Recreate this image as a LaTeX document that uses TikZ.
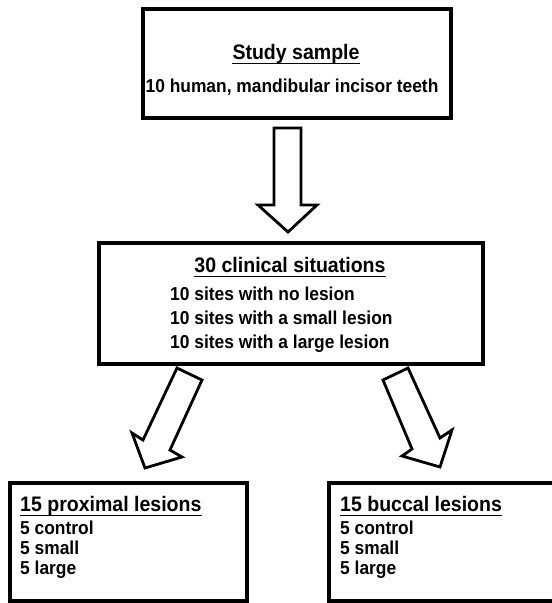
\documentclass[tikz,border=0pt]{standalone}
\usepackage{fontspec}
\setmainfont[FakeStretch=0.93]{Liberation Sans}
\begin{document}
\begin{tikzpicture}[x=1pt,y=-1pt,
  box/.style={draw, line width=3.2pt, rectangle, inner sep=0pt},
  blockarrow/.style={draw, line width=2.8pt, fill=white, line join=miter},
  ttl/.style={inner sep=0pt, font=\bfseries\fontsize{21}{24}\selectfont},
  txt/.style={inner sep=0pt, font=\bfseries\fontsize{18.7}{22}\selectfont},
  uline/.style={line width=1.4pt}]
\useasboundingbox (0,0) rectangle (552,603);

% boxes
\node[box, minimum width=308pt, minimum height=109pt] (top) at (297,63.5) {};
\node[box, minimum width=384pt, minimum height=121pt] (mid) at (291,303.5) {};
\node[box, minimum width=237pt, minimum height=118pt] (bl) at (128.5,542) {};
\node[box, minimum width=231pt, minimum height=118pt] (br) at (444.5,542) {};

% top box text
\node[ttl, anchor=base] (t1) at (296,59) {Study sample};
\draw[uline] ([yshift=-4.5pt]t1.base west) -- ([yshift=-4.5pt]t1.base east);
\node[txt, anchor=base] (t2) at (292,92) {10 human, mandibular incisor teeth};

% middle box text
\node[ttl, anchor=base] (m1) at (290,272) {30 clinical situations};
\draw[uline] ([yshift=-4.5pt]m1.base west) -- ([yshift=-4.5pt]m1.base east);
\node[txt, anchor=base west] (m2) at (170,300) {10 sites with no lesion};
\node[txt, anchor=base west] (m3) at (170,324) {10 sites with a small lesion};
\node[txt, anchor=base west] (m4) at (170,348) {10 sites with a large lesion};

% bottom-left text
\node[ttl, anchor=base west] (l1) at (20,511) {15 proximal lesions};
\draw[uline] ([yshift=-4.5pt]l1.base west) -- ([yshift=-4.5pt]l1.base east);
\node[txt, anchor=base west] (l2) at (20,534) {5 control};
\node[txt, anchor=base west] (l3) at (20,554) {5 small};
\node[txt, anchor=base west] (l4) at (20,574) {5 large};

% bottom-right text
\node[ttl, anchor=base west] (r1) at (340,511) {15 buccal lesions};
\draw[uline] ([yshift=-4.5pt]r1.base west) -- ([yshift=-4.5pt]r1.base east);
\node[txt, anchor=base west] (r2) at (340,534) {5 control};
\node[txt, anchor=base west] (r3) at (340,554) {5 small};
\node[txt, anchor=base west] (r4) at (340,574) {5 large};

% block arrows
\draw[blockarrow] (274,128) -- (301,128) -- (301,205) -- (317,205) -- (288,232) -- (258,205) -- (274,205) -- cycle;
\draw[blockarrow] (177,368) -- (202,380) -- (170,450) -- (182,457) -- (145,468) -- (132,433) -- (143,440) -- cycle;
\draw[blockarrow] (383,380) -- (408,368) -- (440,438) -- (452,430) -- (440,467) -- (402,456) -- (412,449) -- cycle;
\end{tikzpicture}
\end{document}
